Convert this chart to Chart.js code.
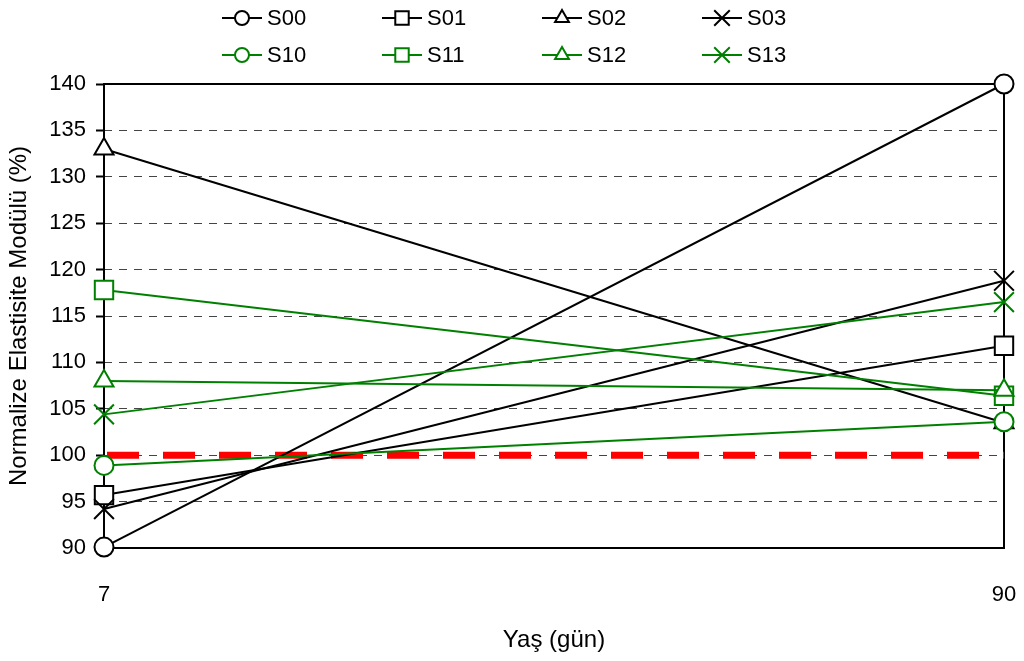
<!DOCTYPE html>
<html>
<head>
<meta charset="utf-8">
<script src="https://cdn.jsdelivr.net/npm/chart.js@4/dist/chart.umd.min.js"></script>
<style>
  html, body { margin: 0; padding: 0; background: #fff; }
  #wrap { width: 1024px; height: 661px; }
</style>
</head>
<body>
<div id="wrap"><canvas id="grafico"></canvas></div>
<script>
// Yaş (gün) — iki ölçüm günü
const gunler = [7, 90];

// Seri adları ve normalize elastisite modülü değerleri (%)
const seriler = ['S00', 'S01', 'S02', 'S03', 'S10', 'S11', 'S12', 'S13'];
const S00 = [90.1, 140];
const S01 = [95.7, 111.8];
const S02 = [133, 103.5];
const S03 = [94.2, 118.8];
const S10 = [98.9, 103.6];
const S11 = [117.8, 106.4];
const S12 = [108, 107];
const S13 = [104.4, 116.5];
const referans = [100, 100];

const yTikler = [90, 95, 100, 105, 110, 115, 120, 125, 130, 135, 140];
const xTikler = [7, 90];

const degerler = [S00, S01, S02, S03, S10, S11, S12, S13];
const siyah = '#000000';
const yesil = '#008000';
const renkler = [siyah, siyah, siyah, siyah, yesil, yesil, yesil, yesil];
const isaretler = ['circle', 'rect', 'triangle', 'crossRot', 'circle', 'rect', 'triangle', 'crossRot'];
const yaricap = { circle: 9.5, rect: 13, triangle: 11, crossRot: 14 };

const yazi = 'Liberation Sans, Arial, sans-serif';

function noktalar(dizi) {
    return gunler.map((g, i) => ({ x: g, y: dizi[i] }));
}

// sonraki seriler üstte çizilsin
const veriSetleri = seriler.map((ad, i) => ({
    label: ad,
    data: noktalar(degerler[i]),
    borderColor: renkler[i],
    backgroundColor: '#ffffff',
    borderWidth: 2,
    pointStyle: isaretler[i],
    pointRadius: yaricap[isaretler[i]],
    pointBorderWidth: 2,
    pointBorderColor: renkler[i],
    pointBackgroundColor: '#ffffff',
    clip: false,
    order: 20 - i
}));

// %100 referans çizgisi (kırmızı kesikli), en altta
veriSetleri.unshift({
    label: 'ref',
    data: noktalar(referans),
    borderColor: '#ff0000',
    borderWidth: 7,
    borderDash: [32, 24],
    borderDashOffset: -3,
    pointRadius: 0,
    clip: false,
    order: 100
});

// Çizim alanının çerçevesi
const cerceve = {
    id: 'cerceve',
    beforeDatasetsDraw(chart) {
        const { ctx, chartArea: a } = chart;
        ctx.save();
        ctx.strokeStyle = '#000';
        ctx.lineWidth = 2;
        ctx.strokeRect(a.left, a.top, a.right - a.left, a.bottom - a.top);
        ctx.restore();
    }
};

// Üstteki iki satırlık açıklama
const aciklama = {
    id: 'aciklama',
    afterDraw(chart) {
        const ctx = chart.ctx;
        ctx.save();
        seriler.forEach((ad, i) => {
            const x0 = 222 + (i % 4) * 160;
            const y = i < 4 ? 18 : 55;
            ctx.strokeStyle = renkler[i];
            ctx.lineWidth = 2;
            ctx.beginPath();
            ctx.moveTo(x0, y);
            ctx.lineTo(x0 + 40, y);
            ctx.stroke();
            ctx.fillStyle = '#ffffff';
            ctx.strokeStyle = renkler[i];
            const r = { circle: 7, rect: 9.5, triangle: 8, crossRot: 11 }[isaretler[i]];
            Chart.helpers.drawPoint(ctx, { pointStyle: isaretler[i], radius: r, rotation: 0, borderWidth: 2 }, x0 + 20, y);
            ctx.fillStyle = '#000';
            ctx.font = '22px ' + yazi;
            ctx.textBaseline = 'middle';
            ctx.textAlign = 'left';
            ctx.fillText(ad, x0 + 45, y + 1);
        });
        ctx.restore();
    }
};

new Chart(document.getElementById('grafico'), {
    type: 'line',
    data: { datasets: veriSetleri },
    plugins: [cerceve, aciklama],
    options: {
        responsive: true,
        maintainAspectRatio: false,
        animation: false,
        layout: { padding: { top: 84, right: 20, left: 0, bottom: 0 } },
        plugins: {
            legend: { display: false },
            tooltip: { enabled: false }
        },
        scales: {
            x: {
                type: 'linear',
                min: 7,
                max: 90,
                afterBuildTicks(scale) {
                    scale.ticks = xTikler.map(v => ({ value: v }));
                },
                afterFit(scale) {
                    scale.height = 113;
                    scale.paddingLeft = 0;
                    scale.paddingRight = 0;
                },
                grid: { display: false },
                border: { display: false },
                ticks: {
                    padding: 26,
                    color: '#000',
                    font: { family: yazi, size: 22 },
                    maxRotation: 0
                },
                title: {
                    display: true,
                    text: 'Yaş (gün)',
                    color: '#000',
                    font: { family: yazi, size: 24 },
                    padding: { top: 0, bottom: 6 }
                }
            },
            y: {
                min: 90,
                max: 140,
                afterBuildTicks(scale) {
                    scale.ticks = yTikler.map(v => ({ value: v }));
                },
                afterFit(scale) {
                    scale.width = 104;
                    scale.paddingTop = 0;
                    scale.paddingBottom = 0;
                },
                grid: {
                    color: c => (c.tick && (c.tick.value === 90 || c.tick.value === 140)) ? 'rgba(0,0,0,0)' : '#444',
                    lineWidth: 1,
                    drawTicks: true,
                    tickLength: 8,
                    tickColor: '#000',
                    tickWidth: 2,
                    tickBorderDash: []
                },
                border: { display: false, dash: [8, 7] },
                ticks: {
                    padding: 10,
                    color: '#000',
                    font: { family: yazi, size: 22 }
                },
                title: {
                    display: true,
                    text: 'Normalize Elastisite Modülü (%)',
                    color: '#000',
                    font: { family: yazi, size: 24 },
                    padding: { top: 5, bottom: 0 }
                }
            }
        }
    }
});
</script>
</body>
</html>
